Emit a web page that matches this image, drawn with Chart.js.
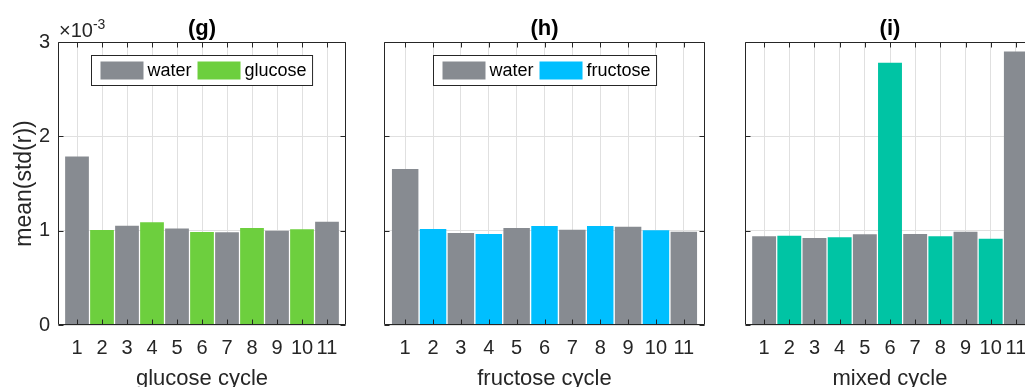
<!DOCTYPE html>
<html>
<head>
<meta charset="utf-8">
<script src="https://cdn.jsdelivr.net/npm/chart.js@4.4.1/dist/chart.umd.min.js"></script>
<style>
  html, body { margin: 0; padding: 0; background: #fff; overflow: hidden; width: 1025px; height: 387px; }
  .panel { position: absolute; top: 0; height: 400px; }
</style>
</head>
<body>
<div class="panel" style="left:0px;width:360px"><canvas id="panelG"></canvas></div>
<div class="panel" style="left:360px;width:360px"><canvas id="panelH"></canvas></div>
<div class="panel" style="left:720px;width:330px"><canvas id="panelI"></canvas></div>
<script>
// Cycle numbers along the x axis and their tick labels
const cycles = [1, 2, 3, 4, 5, 6, 7, 8, 9, 10, 11];
const xTickLabels = ['1', '2', '3', '4', '5', '6', '7', '8', '9', '10', '11'];
const yTickValues = [0, 1, 2, 3];
const yTickLabels = ['0', '1', '2', '3'];

// mean(std(r)) per cycle, in units of 1e-3 (odd cycles = water)
const glucoseCycle  = [1.785, 1.007, 1.053, 1.088, 1.024, 0.986, 0.982, 1.028, 1.000, 1.014, 1.095];
const fructoseCycle = [1.655, 1.018, 0.975, 0.965, 1.028, 1.049, 1.011, 1.049, 1.042, 1.004, 0.989];
const mixedCycle    = [0.940, 0.947, 0.923, 0.930, 0.961, 2.780, 0.965, 0.940, 0.989, 0.915, 2.900];

const WATER = '#878b91';
const GRID = '#e0e0e0';
const AXIS = '#262626';
const FONT = "'Liberation Sans', Arial, Helvetica, sans-serif";

// Boxed axes with inward ticks, legend box and exponent label
const axesDecor = {
  id: 'axesDecor',
  afterDatasetsDraw(chart, args, opts) {
    const { ctx, chartArea: a, scales: { x, y } } = chart;
    const L = Math.round(a.left) + 0.5, R = Math.round(a.right) - 0.5;
    const T = Math.round(a.top) + 0.5, B = Math.round(a.bottom) - 0.5;
    ctx.save();
    ctx.strokeStyle = AXIS;
    ctx.lineWidth = 1;
    ctx.beginPath();
    ctx.rect(L, T, R - L, B - T);
    const tl = 5;
    x.ticks.forEach(t => {
      const px = Math.round(x.getPixelForValue(t.value)) + 0.5;
      ctx.moveTo(px, T); ctx.lineTo(px, T + tl);
      ctx.moveTo(px, B); ctx.lineTo(px, B - tl);
    });
    y.ticks.forEach(t => {
      const py = Math.round(y.getPixelForValue(t.value)) + 0.5;
      ctx.moveTo(L, py); ctx.lineTo(L + tl, py);
      ctx.moveTo(R, py); ctx.lineTo(R - tl, py);
    });
    ctx.stroke();

    if (opts.exponent) {
      ctx.fillStyle = AXIS;
      ctx.textBaseline = 'alphabetic';
      ctx.textAlign = 'left';
      ctx.font = '20px ' + FONT;
      const base = '\u00d710';
      ctx.fillText(base, a.left + 1, a.top - 5);
      const w = ctx.measureText(base).width;
      ctx.font = '14px ' + FONT;
      ctx.fillText('-3', a.left + 1 + w, a.top - 13);
    }

    if (opts.legend) {
      const ds = chart.data.datasets;
      ctx.font = '18px ' + FONT;
      const sw = 43, sh = 18, padL = 9, gapT = 4, gapItem = 6, padR = 6, h = 30;
      const widths = ds.map(d => ctx.measureText(d.label).width);
      let w = padL + padR;
      widths.forEach((tw, i) => { w += sw + gapT + tw + (i < widths.length - 1 ? gapItem : 0); });
      const cx = (a.left + a.right) / 2;
      const bx = Math.round(cx - w / 2) + 0.5, by = Math.round(a.top + 13) + 0.5;
      ctx.fillStyle = '#fff';
      ctx.fillRect(bx, by, w, h);
      ctx.strokeStyle = AXIS;
      ctx.strokeRect(bx, by, w, h);
      let px = bx + padL;
      ds.forEach((d, i) => {
        ctx.fillStyle = d.backgroundColor;
        ctx.fillRect(px, by + 6, sw, sh);
        px += sw + gapT;
        ctx.fillStyle = '#000';
        ctx.textBaseline = 'middle';
        ctx.fillText(d.label, px, by + h / 2 + 1);
        px += widths[i] + gapItem;
      });
    }
    ctx.restore();
  }
};

function makePanel(canvasId, p) {
  const waterPts = [], sugarPts = [];
  cycles.forEach((c, i) => (c % 2 ? waterPts : sugarPts).push({ x: c, y: p.values[i] }));
  return new Chart(document.getElementById(canvasId), {
    type: 'bar',
    data: {
      datasets: [
        { label: 'water', data: waterPts, backgroundColor: WATER },
        { label: p.sugarLabel, data: sugarPts, backgroundColor: p.color }
      ]
    },
    options: {
      responsive: true,
      maintainAspectRatio: false,
      animation: false,
      events: [],
      datasets: { bar: { grouped: false, barPercentage: 0.95, categoryPercentage: 1, borderWidth: 0 } },
      layout: { padding: { left: 0, right: p.padRight, top: 0, bottom: 0 } },
      plugins: {
        legend: { display: false },
        tooltip: { enabled: false },
        title: {
          display: true, text: p.title, fullSize: false, color: '#000',
          font: { family: FONT, size: 22, weight: 'bold' },
          padding: { top: 15.6, bottom: 0 }
        },
        axesDecor: { legend: p.legend, exponent: p.exponent }
      },
      scales: {
        x: {
          type: 'linear', min: 0.24, max: 11.76, offset: false,
          afterBuildTicks: s => { s.ticks = cycles.map(v => ({ value: v })); },
          afterFit: s => { s.height = 75; },
          grid: { color: GRID, drawTicks: false, offset: false },
          border: { display: false },
          ticks: {
            padding: 11, color: AXIS, maxRotation: 0, autoSkip: false,
            font: { family: FONT, size: 20 },
            callback: (v, i) => xTickLabels[i]
          },
          title: {
            display: true, text: p.xTitle, color: AXIS,
            font: { family: FONT, size: 22 },
            padding: { top: 0, bottom: 8 }
          }
        },
        y: {
          min: 0, max: 3,
          afterBuildTicks: s => { s.ticks = yTickValues.map(v => ({ value: v })); },
          afterFit: s => { s.width = p.yWidth; },
          grid: { color: GRID, drawTicks: false },
          border: { display: false },
          ticks: {
            display: p.yLabels, padding: 8, color: AXIS,
            font: { family: FONT, size: 20 },
            callback: (v, i) => yTickLabels[i]
          },
          title: {
            display: p.yLabels, text: 'mean(std(r))', color: AXIS,
            font: { family: FONT, size: 23 },
            padding: { top: 11, bottom: 0 }
          }
        }
      }
    },
    plugins: [axesDecor]
  });
}

makePanel('panelG', {
  values: glucoseCycle, sugarLabel: 'glucose', color: '#6dcf3e', title: '(g)',
  xTitle: 'glucose cycle', yWidth: 58, padRight: 14, yLabels: true, legend: true, exponent: true
});
makePanel('panelH', {
  values: fructoseCycle, sugarLabel: 'fructose', color: '#00bfff', title: '(h)',
  xTitle: 'fructose cycle', yWidth: 24, padRight: 15, yLabels: false, legend: true, exponent: false
});
makePanel('panelI', {
  values: mixedCycle, sugarLabel: 'glucose + fructose', color: '#00c4a4', title: '(i)',
  xTitle: 'mixed cycle', yWidth: 25, padRight: 15, yLabels: false, legend: false, exponent: false
});
</script>
</body>
</html>
